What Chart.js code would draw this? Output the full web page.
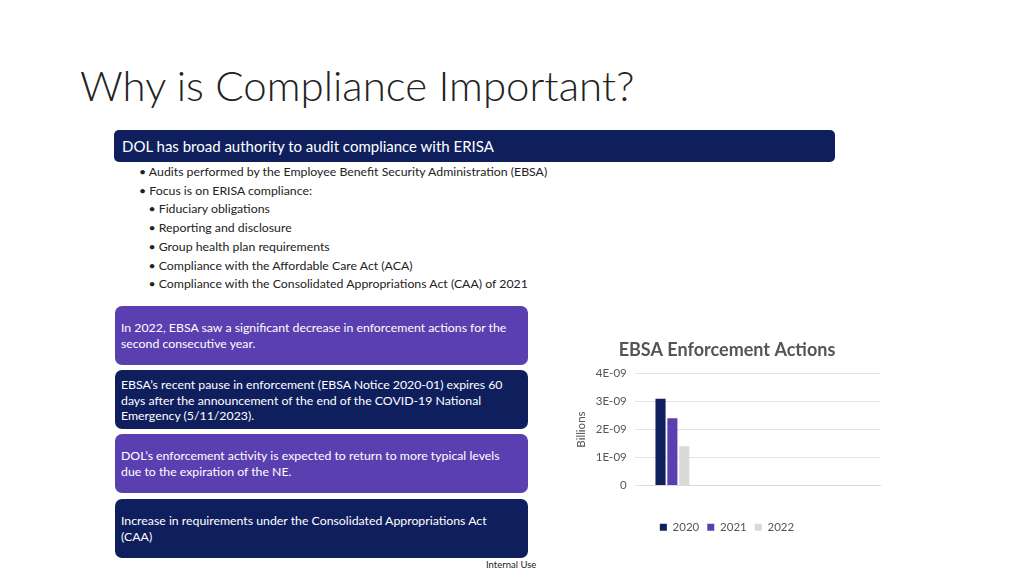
<!DOCTYPE html>
<html><head><meta charset="utf-8">
<script src="https://cdn.jsdelivr.net/npm/chart.js@4"></script>
<style>
body{margin:0;width:1024px;height:576px;background:#fff;font-family:Lato,sans-serif;position:relative;overflow:hidden}
.t{position:absolute;left:80px;top:60px;font-size:42px;color:#222;font-family:Lato,sans-serif;font-weight:300}
.hd{position:absolute;left:114px;top:130px;width:721px;height:32px;background:#0f1f5e;color:#fff;border-radius:5px;font-size:15px;line-height:32px;padding-left:8px;box-sizing:border-box}
.bl{position:absolute;left:139px;top:163px;font-size:12.3px;color:#222;line-height:18.7px}
.box{position:absolute;left:115px;width:413px;height:59px;border-radius:7px;color:#fff;font-size:12.3px;line-height:15.5px;padding:14px 6px 0 6px;box-sizing:border-box}
.p{background:#5a3fb0}.n{background:#0f1f5e}
.iu{position:absolute;left:486px;top:559px;font-size:9.5px;color:#222}
#wrap{position:absolute;left:572px;top:335px;width:318px;height:208px}
</style></head><body>
<div class="t">Why is Compliance Important?</div>
<div class="hd">DOL has broad authority to audit compliance with ERISA</div>
<div class="bl">• Audits performed by the Employee Benefit Security Administration (EBSA)<br>• Focus is on ERISA compliance:<br>&nbsp;&nbsp;&nbsp;• Fiduciary obligations<br>&nbsp;&nbsp;&nbsp;• Reporting and disclosure<br>&nbsp;&nbsp;&nbsp;• Group health plan requirements<br>&nbsp;&nbsp;&nbsp;• Compliance with the Affordable Care Act (ACA)<br>&nbsp;&nbsp;&nbsp;• Compliance with the Consolidated Appropriations Act (CAA) of 2021</div>
<div class="box p" style="top:306px">In 2022, EBSA saw a significant decrease in enforcement actions for the second consecutive year.</div>
<div class="box n" style="top:370px;padding-top:7px">EBSA’s recent pause in enforcement (EBSA Notice 2020-01) expires 60 days after the announcement of the end of the COVID-19 National Emergency (5/11/2023).</div>
<div class="box p" style="top:434px;padding-top:14px">DOL’s enforcement activity is expected to return to more typical levels due to the expiration of the NE.</div>
<div class="box n" style="top:499px;padding-top:14px;padding-right:30px">Increase in requirements under the Consolidated Appropriations Act (CAA)</div>
<div class="iu">Internal Use</div>
<div id="wrap"><canvas id="c"></canvas></div>
<script>
const categories=['','','',''];
const seriesNames=['2020','2021','2022'];
const v2020=[3.1e-9,null,null,null];
const v2021=[2.4e-9,null,null,null];
const v2022=[1.4e-9,null,null,null];
const colors=['#0f1f5e','#5a3fb0','#d9d9d9'];
const fmt=v=>{if(v===0)return '0';const m=Math.round(v*1e9*10)/10;return m+'E-09';};
new Chart(document.getElementById('c'),{type:'bar',
data:{labels:categories,datasets:[v2020,v2021,v2022].map((d,i)=>({label:seriesNames[i],data:d,backgroundColor:colors[i],categoryPercentage:0.6,barPercentage:0.85}))},
options:{responsive:true,maintainAspectRatio:false,animation:false,
layout:{padding:{right:10,left:2}},
plugins:{title:{display:true,text:'EBSA Enforcement Actions',color:'#555',font:{size:18,weight:'bold',family:'Lato,sans-serif'},padding:{top:4,bottom:13}},
legend:{position:'bottom',labels:{boxWidth:7,boxHeight:7,color:'#555',font:{size:11.5,family:'Lato'},padding:8}}},
scales:{x:{grid:{display:false},border:{color:'#d9d9d9'},ticks:{display:false},afterFit:s=>{s.height=28;}},
y:{min:0,max:4e-9,ticks:{stepSize:1e-9,callback:fmt,color:'#555',font:{size:11.5,family:'Lato'},padding:8},grid:{color:'#e3e3e3'},border:{display:false},
title:{display:true,text:'Billions',color:'#555',font:{size:11.5,family:'Lato'},padding:0}}}}});
</script></body></html>
